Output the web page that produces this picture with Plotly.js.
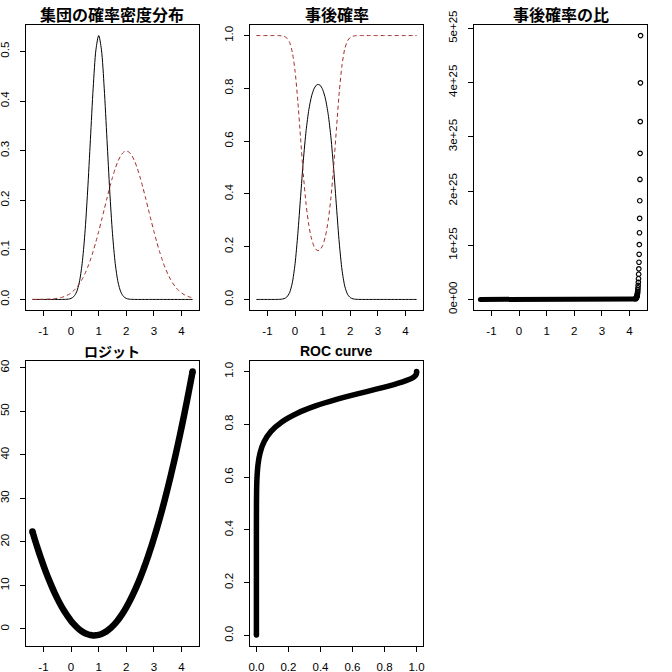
<!DOCTYPE html>
<html>
<head>
<meta charset="utf-8">
<script src="https://cdn.plot.ly/plotly-3.0.1.min.js"></script>
<style>html,body{margin:0;padding:0;background:#fff;}#chart{width:672px;height:672px;}</style>
</head>
<body>
<div id="chart"></div>
<script>
// ---- data ----
const titles = ['集団の確率密度分布', '事後確率', '事後確率の比', 'ロジット', 'ROC curve'];

const xs = [-1.4,-1.3,-1.2,-1.1,-1.0,-0.9,-0.8,-0.7,-0.6,-0.5,-0.4,-0.3,-0.2,-0.1,0.0,
  0.1,0.2,0.3,0.4,0.5,0.6,0.7,0.8,0.9,1.0,1.1,1.2,1.3,1.4,1.5,1.6,1.7,1.8,1.9,2.0,
  2.1,2.2,2.3,2.4,2.5,2.6,2.7,2.8,2.9,3.0,3.1,3.2,3.3,3.4,3.5,3.6,3.7,3.8,3.9,4.0,
  4.1,4.2,4.3,4.4];

// group 1 weighted density (black, solid)
const dens1 = [6.74e-15,9.17e-14,1.117e-12,1.218e-11,1.188e-10,1.037e-9,8.10e-9,5.66e-8,3.54e-7,1.982e-6,
  9.94e-6,4.449e-5,1.7844e-4,6.403e-4,2.0563e-3,5.909e-3,0.015193,0.034964,0.071988,0.13263,
  0.21868,0.32263,0.42592,0.50318,0.53192,0.50318,0.42592,0.32263,0.21868,0.13263,
  0.071988,0.034964,0.015193,5.909e-3,2.0563e-3,6.403e-4,1.7844e-4,4.449e-5,9.94e-6,1.982e-6,
  3.54e-7,5.66e-8,8.10e-9,1.037e-9,1.188e-10,1.218e-11,1.117e-12,9.17e-14,6.74e-15,4.43e-16,
  2.60e-17,1.37e-18,6.45e-20,2.72e-21,1.026e-22,3.46e-24,1.045e-25,2.825e-27,6.83e-29];

// group 2 weighted density (dark red, dashed)
const dens2 = [3.579e-5,6.04e-5,1.004e-4,1.643e-4,2.645e-4,4.193e-4,6.545e-4,1.0059e-3,1.5217e-3,2.2666e-3,
  3.324e-3,4.7985e-3,6.820e-3,9.543e-3,0.013147,0.017829,0.023805,0.031291,0.040494,0.05159,
  0.064709,0.079905,0.09714,0.116262,0.136988,0.158905,0.18148,0.204048,0.22586,0.246124,
  0.264053,0.278894,0.290003,0.296882,0.29921,0.296882,0.290003,0.278894,0.264053,0.246124,
  0.22586,0.204048,0.18148,0.158905,0.136988,0.116262,0.09714,0.079905,0.064709,0.05159,
  0.040494,0.031291,0.023805,0.017829,0.013147,9.543e-3,6.82e-3,4.7985e-3,3.324e-3];

// posterior probability of group 1 (black) and group 2 (dark red)
const post1 = [1.88e-10,1.52e-9,1.11e-8,7.41e-8,4.49e-7,2.47e-6,1.24e-5,5.64e-5,2.33e-4,8.74e-4,
  2.976e-3,9.19e-3,0.02549,0.06287,0.13531,0.24894,0.38960,0.52772,0.63999,0.71998,
  0.77166,0.80149,0.81429,0.81230,0.79520,0.75999,0.70124,0.61259,0.49195,0.35018,
  0.21423,0.11139,0.04979,0.01951,6.83e-3,2.156e-3,6.15e-4,1.59e-4,3.76e-5,8.06e-6,
  1.57e-6,2.78e-7,4.47e-8,6.53e-9,8.66e-10,1.05e-10,1.15e-11,1.15e-12,1.04e-13,8.6e-15,
  6.4e-16,4.4e-17,2.7e-18,1.5e-19,7.8e-21,3.6e-22,1.5e-23,5.3e-25,2.1e-26];
const post2 = [1,1,1,0.9999999,0.9999996,0.9999975,0.9999876,0.9999436,0.999767,0.999126,
  0.997024,0.99081,0.97451,0.93713,0.86469,0.75106,0.61040,0.47228,0.36001,0.28002,
  0.22834,0.19851,0.18571,0.18770,0.20480,0.24001,0.29876,0.38741,0.50805,0.64982,
  0.78577,0.88861,0.95021,0.98049,0.99317,0.997844,0.999385,0.999841,0.9999624,0.999992,
  0.9999984,1,1,1,1,1,1,1,1,1,1,1,1,1,1,1,1,1,1];

// posterior ratio (group 2 / group 1) on the coarse grid, up to x = 4.2
const ratioBase = [5.31e9,6.59e8,8.98e7,1.35e7,2.23e6,4.05e5,8.09e4,1.78e4,4.30e3,1.14e3,
  335,107.9,38.2,14.9,6.39,3.02,1.567,0.895,0.5625,0.389,
  0.296,0.248,0.228,0.231,0.258,0.316,0.426,0.632,1.033,1.856,
  3.668,7.977,19.09,50.25,145.5,464,1626,6.27e3,2.66e4,1.24e5,
  6.38e5,3.60e6,2.24e7,1.53e8,1.15e9,9.54e9,8.69e10,8.71e11,9.61e12,1.16e14,
  1.56e15,2.28e16,3.69e17,6.56e18,1.28e20,2.76e21,6.52e22];
// the individually visible points at the right end
const tailX = [4.4,4.39419,4.38839,4.38258,4.37678,4.37097,4.36517,4.35936,4.35355,4.34775,
  4.34194,4.33614,4.33033,4.32452,4.31872,4.31291,4.30711,4.30130,4.29550,4.28969,
  4.28388,4.27808,4.27227,4.26647,4.26066,4.25485,4.24905,4.24324,4.23744,4.23163,4.22583];
const tailRatio = [4.867e25,3.995e25,3.280e25,2.695e25,2.214e25,1.820e25,1.496e25,1.230e25,1.0124e25,8.331e24,
  6.859e24,5.650e24,4.653e24,3.836e24,3.161e24,2.607e24,2.150e24,1.774e24,1.465e24,1.208e24,
  9.98e23,8.247e23,6.815e23,5.634e23,4.659e23,3.855e23,3.189e23,2.640e23,2.186e23,1.811e23,1.500e23];

// logit = log(posterior ratio)
const logit = [22.393,20.306,18.313,16.417,14.616,12.910,11.300,9.785,8.366,7.042,
  5.8136,4.681,3.6434,2.7016,1.8548,1.1043,0.4490,-0.1110,-0.5754,-0.9443,
  -1.2177,-1.3957,-1.4782,-1.4651,-1.3566,-1.1526,-0.8532,-0.4582,0.0322,0.6182,
  1.2996,2.0765,2.9489,3.9168,4.9802,6.1390,7.3934,8.7433,10.1882,11.7293,
  13.3656,15.0974,16.9246,18.8474,20.8656,22.9793,25.1882,27.4933,29.8934,32.3888,
  34.980,37.667,40.449,43.327,46.300,49.368,52.532,55.792,59.147];

// ROC curve
const rocFPR = [0,0,0,0,0,0,0,0.0000015,0.000032,0.00043,0.00135,0.00383,0.00982,0.02275,0.04779,
  0.09121,0.15866,0.25249,0.36944,0.5,0.63056,0.74751,0.84134,0.90879,0.95221,
  0.97725,0.99018,0.99617,0.99865,0.99957,1.0,1.0];
const rocTPR = [0.00135,0.00621,0.02275,0.06681,0.10565,0.15866,0.22663,0.30854,0.40129,0.5,0.54974,0.59871,0.64617,0.69146,0.73401,
  0.77337,0.80921,0.84134,0.86970,0.89435,0.91543,0.93319,0.94792,0.95994,0.96960,
  0.97725,0.98321,0.98778,0.99123,0.99379,0.99865,0.999996];

// ---- layout helpers ----
const W = 672, H = 672;
const fx = p => p / W;
const fy = p => 1 - p / H;
const colX = [[26, 199], [250, 423], [474, 647]];
const rowY = [[25, 310], [361, 646]];
const darkRed = '#A52A2A';

const baseAxis = {
  showgrid: false, zeroline: false, showline: true, mirror: true,
  linecolor: '#000', linewidth: 1, ticks: 'outside', ticklen: 5, tickwidth: 1,
  tickcolor: '#000', fixedrange: true, ticklabelstandoff: 5,
  tickfont: {family: 'Liberation Sans, Arial, sans-serif', size: 11.5, color: '#000'}
};
function xa(col, row, range, vals, fmt) {
  return Object.assign({}, baseAxis, {
    domain: [fx(colX[col][0]), fx(colX[col][1])], range: range,
    tickmode: 'array', tickvals: vals, ticktext: vals.map(fmt)
  });
}
function ya(col, row, range, vals, fmt) {
  return Object.assign({}, baseAxis, {
    domain: [fy(rowY[row][1]), fy(rowY[row][0])], range: range, tickangle: -90,
    tickmode: 'array', tickvals: vals, ticktext: vals.map(fmt), ticklabelstandoff: 6
  });
}
const xRange = [-1.632, 4.632];
const xTicks = [-1, 0, 1, 2, 3, 4];
const intFmt = v => String(v);
const f1 = v => v.toFixed(1);
const expFmt = v => (v === 0 ? '0e+00' : (v / 1e25).toFixed(0) + 'e+25');
// round end caps: marker only at the first and last point of a thick band
const endCaps = (n, s) => Array.from({length: n}, (_, i) => (i === 0 || i === n - 1) ? s : 0);

const layout = {
  width: W, height: H, margin: {l: 0, r: 0, t: 0, b: 0},
  showlegend: false, paper_bgcolor: '#fff', plot_bgcolor: '#fff',
  font: {family: 'Liberation Sans, Arial, sans-serif', size: 11, color: '#000'},
  xaxis:  Object.assign(xa(0, 0, xRange, xTicks, intFmt), {anchor: 'y'}),
  yaxis:  Object.assign(ya(0, 0, [-0.02128, 0.5532], [0, 0.1, 0.2, 0.3, 0.4, 0.5], f1), {anchor: 'x'}),
  xaxis2: Object.assign(xa(1, 0, xRange, xTicks, intFmt), {anchor: 'y2'}),
  yaxis2: Object.assign(ya(1, 0, [-0.04, 1.04], [0, 0.2, 0.4, 0.6, 0.8, 1.0], f1), {anchor: 'x2'}),
  xaxis3: Object.assign(xa(2, 0, xRange, xTicks, intFmt), {anchor: 'y3'}),
  yaxis3: Object.assign(ya(2, 0, [-1.947e24, 5.062e25], [0, 1e25, 2e25, 3e25, 4e25, 5e25], expFmt), {anchor: 'x3'}),
  xaxis4: Object.assign(xa(0, 1, xRange, xTicks, intFmt), {anchor: 'y4'}),
  yaxis4: Object.assign(ya(0, 1, [-3.91, 61.57], [0, 10, 20, 30, 40, 50, 60], intFmt), {anchor: 'x4'}),
  xaxis5: Object.assign(xa(1, 1, [-0.04, 1.04], [0, 0.2, 0.4, 0.6, 0.8, 1.0], f1), {anchor: 'y5'}),
  yaxis5: Object.assign(ya(1, 1, [-0.04, 1.04], [0, 0.2, 0.4, 0.6, 0.8, 1.0], f1), {anchor: 'x5'}),
  annotations: titles.map((t, i) => {
    const col = i % 3, row = Math.floor(i / 3);
    const cx = (colX[col][0] + colX[col][1]) / 2;
    const cy = row === 0 ? 14 : 351;
    const isLatin = /^[A-Za-z ]+$/.test(t);
    return {
      text: '<b>' + t + '</b>', xref: 'paper', yref: 'paper',
      x: fx(cx), y: fy(cy), xanchor: 'center', yanchor: 'middle', showarrow: false,
      font: {family: isLatin ? 'Liberation Sans, Arial, sans-serif' : 'Noto Sans CJK JP, sans-serif',
             size: isLatin ? 14 : (t === 'ロジット' ? 14 : 16), color: '#000'}
    };
  })
};

const traces = [
  {x: xs, y: dens1, xaxis: 'x', yaxis: 'y', mode: 'lines', line: {color: '#000', width: 1, shape: 'spline', smoothing: 0.8}},
  {x: xs, y: dens2, xaxis: 'x', yaxis: 'y', mode: 'lines', line: {color: darkRed, width: 1, dash: '4px,3px', shape: 'spline', smoothing: 0.8}},
  {x: xs, y: post1, xaxis: 'x2', yaxis: 'y2', mode: 'lines', line: {color: '#000', width: 1, shape: 'spline', smoothing: 0.7}},
  {x: xs, y: post2, xaxis: 'x2', yaxis: 'y2', mode: 'lines', line: {color: darkRed, width: 1, dash: '4px,3px', shape: 'spline', smoothing: 0.7}},
  {x: xs.slice(0, ratioBase.length), y: ratioBase, xaxis: 'x3', yaxis: 'y3', mode: 'lines+markers',
   line: {color: '#000', width: 5}, marker: {color: '#000', opacity: 1, size: endCaps(ratioBase.length, 5), line: {width: 0}}},
  {x: tailX, y: tailRatio, xaxis: 'x3', yaxis: 'y3', mode: 'markers',
   marker: {symbol: 'circle-open', size: 4.5, color: '#000', line: {width: 1.2, color: '#000'}}},
  {x: xs, y: logit, xaxis: 'x4', yaxis: 'y4', mode: 'lines+markers',
   line: {color: '#000', width: 6.5, shape: 'spline', smoothing: 0.8},
   marker: {color: '#000', opacity: 1, size: endCaps(xs.length, 6.5), line: {width: 0}}},
  {x: rocFPR, y: rocTPR, xaxis: 'x5', yaxis: 'y5', mode: 'lines+markers',
   line: {color: '#000', width: 5.5, shape: 'spline', smoothing: 0.6},
   marker: {color: '#000', opacity: 1, size: endCaps(rocFPR.length, 5.5), line: {width: 0}}}
];

Plotly.newPlot('chart', traces, layout, {staticPlot: true, displayModeBar: false});
</script>
</body>
</html>
